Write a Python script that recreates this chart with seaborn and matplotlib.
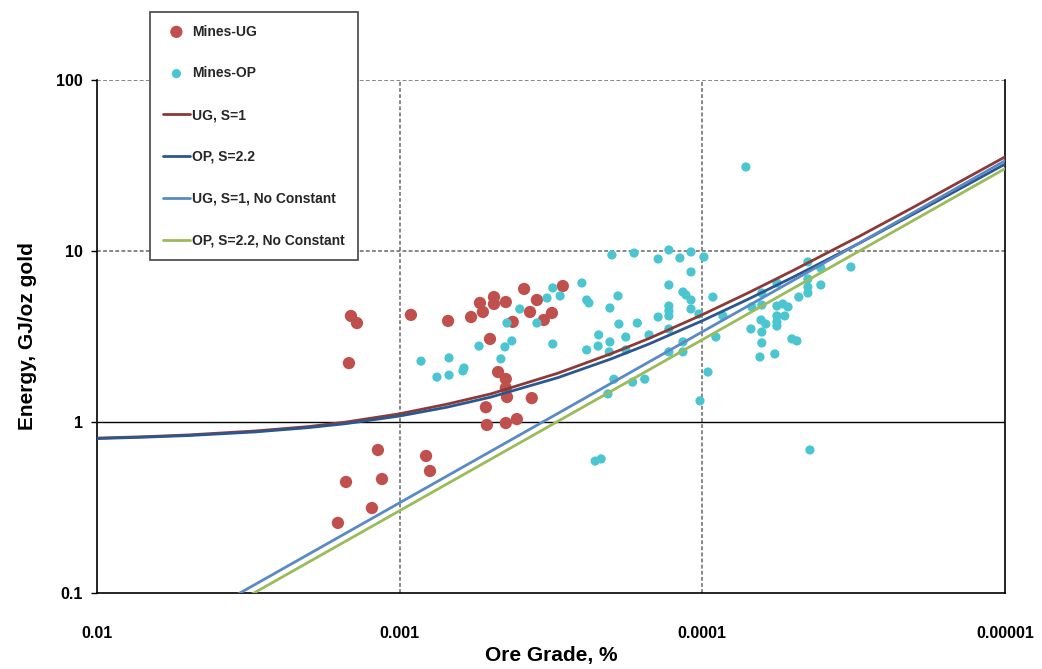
import matplotlib
matplotlib.use("Agg")
import matplotlib.pyplot as plt
import seaborn as sns
import pandas as pd

# ---------------- data ----------------
ug_grade = [1.449e-3, 1.384e-3, 1.471e-3, 9.18e-4, 6.92e-4, 5.81e-4, 5.43e-4, 5.31e-4,
            4.88e-4, 4.88e-4, 4.46e-4, 3.88e-4, 3.52e-4, 3.71e-4, 4.23e-4, 3.34e-4,
            3.14e-4, 2.89e-4, 5.03e-4, 4.73e-4, 4.46e-4, 4.46e-4, 4.42e-4, 3.66e-4,
            5.19e-4, 5.15e-4, 4.46e-4, 4.10e-4, 1.18e-3, 8.18e-4, 7.94e-4, 1.504e-3,
            1.144e-3, 1.235e-3, 1.60e-3]
ug_energy = [4.17, 3.79, 2.21, 4.23, 3.90, 4.11, 4.97, 4.40,
             5.38, 4.90, 5.03, 6.00, 5.17, 4.40, 3.85, 3.95,
             4.34, 6.24, 3.06, 1.96, 1.785, 1.58, 1.40, 1.38,
             1.22, 0.961, 0.986, 1.04, 0.686, 0.633, 0.517, 0.446,
             0.464, 0.314, 0.257]

op_grade = [8.50e-4, 7.53e-4, 6.87e-4, 6.87e-4, 6.18e-4, 6.13e-4, 5.47e-4, 4.63e-4,
            4.49e-4, 4.26e-4, 4.42e-4, 4.01e-4, 3.52e-4, 3.26e-4, 3.12e-4, 2.95e-4,
            3.12e-4, 2.50e-4, 2.41e-4, 2.37e-4, 2.41e-4, 2.21e-4, 2.20e-4, 2.26e-4,
            2.16e-4, 1.99e-4, 1.68e-4, 1.40e-4, 1.29e-4, 1.186e-4, 1.09e-4, 9.88e-5,
            1.09e-4, 1.90e-4, 2.02e-4, 1.29e-4, 1.159e-4, 1.133e-4, 1.09e-4, 1.09e-4,
            1.026e-4, 9.23e-5, 1.29e-4, 1.29e-4, 1.29e-4, 1.40e-4, 1.64e-4, 1.886e-4,
            1.79e-4, 1.50e-4, 1.29e-4, 2.02e-4, 2.03e-4, 1.79e-4, 1.29e-4, 1.159e-4,
            1.159e-4, 9.02e-5, 1.96e-4, 1.70e-4, 1.55e-4, 2.05e-4, 9.58e-5, 1.018e-4,
            7.18e-5, 8.55e-5, 6.36e-5, 5.67e-5, 4.48e-5, 4.06e-5, 3.23e-5, 4.48e-5,
            4.06e-5, 4.80e-5, 4.48e-5, 4.48e-5, 6.36e-5, 6.86e-5, 5.67e-5, 5.42e-5,
            5.21e-5, 5.67e-5, 5.34e-5, 6.40e-5, 6.17e-5, 5.67e-5, 5.67e-5, 6.91e-5,
            6.36e-5, 6.36e-5, 5.06e-5, 4.87e-5, 6.45e-5, 5.76e-5, 4.41e-5]
op_energy = [2.27, 1.83, 2.37, 1.88, 1.99, 2.07, 2.78, 2.34,
             2.75, 2.98, 3.79, 4.58, 3.79, 5.31, 6.08, 5.46,
             2.86, 6.50, 5.17, 4.97, 2.64, 2.78, 3.23, 0.591,
             0.608, 9.48, 9.73, 8.98, 10.14, 9.10, 9.87, 9.22,
             7.54, 5.46, 4.64, 6.33, 5.76, 5.53, 5.17, 4.58,
             4.28, 5.38, 4.77, 4.46, 4.17, 4.11, 3.79, 3.74,
             3.14, 3.23, 3.50, 2.94, 2.57, 2.64, 2.57, 2.94,
             2.57, 3.14, 1.78, 1.71, 1.78, 1.46, 1.96, 1.33,
             31.0, 4.17, 5.68, 6.50, 8.63, 7.95, 8.06, 6.86,
             6.33, 5.38, 6.16, 5.68, 4.83, 4.71, 4.77, 4.90,
             4.71, 4.17, 4.17, 3.95, 3.74, 3.85, 3.64, 3.50,
             3.36, 2.90, 3.06, 2.98, 2.40, 2.50, 0.686]

curve_grade = [0.01, 0.007, 0.005, 0.003, 0.002, 0.0015, 0.001, 0.0007, 0.0005,
               0.0003, 0.0002, 0.00015, 0.0001, 0.00007, 0.00005, 0.00003, 0.00002, 0.00001]
ug_s1 = [0.805, 0.82, 0.84, 0.886, 0.94, 1.00, 1.117, 1.27, 1.46,
         1.93, 2.51, 3.08, 4.24, 5.73, 7.71, 12.3, 18.1, 35.5]
op_s22 = [0.80, 0.815, 0.833, 0.875, 0.927, 0.979, 1.084, 1.219, 1.398,
          1.817, 2.34, 2.86, 3.91, 5.26, 7.05, 11.2, 16.5, 32.2]

nc_grade = [0.01, 0.00001]
ug_nc = [0.0337, 33.7]
op_nc = [0.0303, 30.3]

x_ticks = [0.01, 0.001, 0.0001, 0.00001]
x_tick_labels = ["0.01", "0.001", "0.0001", "0.00001"]
y_ticks = [0.1, 1, 10, 100]
y_tick_labels = ["0.1", "1", "10", "100"]

# ---------------- style ----------------
sns.set_theme(style="white")
plt.rcParams["font.family"] = ["Liberation Sans", "DejaVu Sans"]
plt.rcParams["font.weight"] = "bold"

fig = plt.figure(figsize=(10.42, 6.69), dpi=100)
ax = fig.add_axes([97 / 1042, 1 - 593 / 669, (1005 - 97) / 1042, (593 - 80) / 669])
ax.set_xscale("log")
ax.set_yscale("log")
ax.set_xlim(0.01, 0.00001)
ax.set_ylim(0.1, 100)

c_ug = "#c0504d"
c_op = "#4bc6d0"

sns.scatterplot(x=ug_grade, y=ug_energy, ax=ax, color=c_ug, s=78, edgecolor="none",
                label="Mines-UG", zorder=3)
sns.scatterplot(x=op_grade, y=op_energy, ax=ax, color=c_op, s=44, edgecolor="none",
                label="Mines-OP", zorder=3)

sns.lineplot(x=curve_grade, y=ug_s1, ax=ax, color="#8c3a37", lw=2, label="UG, S=1", zorder=4)
sns.lineplot(x=curve_grade, y=op_s22, ax=ax, color="#2a578f", lw=2, label="OP, S=2.2", zorder=4)
sns.lineplot(x=nc_grade, y=ug_nc, ax=ax, color="#5a8ac6", lw=2,
             label="UG, S=1, No Constant", zorder=4)
sns.lineplot(x=nc_grade, y=op_nc, ax=ax, color="#9bbb59", lw=2,
             label="OP, S=2.2, No Constant", zorder=4)

# grid
ax.grid(False)
for gx in [0.001, 0.0001]:
    ax.axvline(gx, color="#666666", lw=1.1, ls=(0, (2.5, 1.5)), zorder=1)
for gy in [10, 100]:
    ax.axhline(gy, color="#666666", lw=1.1, ls=(0, (2.5, 1.5)), zorder=1)
ax.axhline(1, color="black", lw=1.0, zorder=1)

for side in ["left", "bottom", "right"]:
    ax.spines[side].set_visible(True)
    ax.spines[side].set_color("black")
    ax.spines[side].set_linewidth(1.2)
ax.spines["top"].set_visible(False)

ax.set_xticks(x_ticks)
ax.set_xticklabels(x_tick_labels)
ax.set_yticks(y_ticks)
ax.set_yticklabels(y_tick_labels)
ax.minorticks_off()
ax.tick_params(axis="x", which="major", length=0, pad=24, labelsize=11.5, colors="black")
ax.tick_params(axis="y", which="major", length=4, width=1, pad=6, labelsize=11.5,
               direction="out", left=True, colors="black")
for lab in ax.get_xticklabels() + ax.get_yticklabels():
    lab.set_fontweight("bold")

ax.set_xlabel("Ore Grade, %", fontsize=15, fontweight="bold", labelpad=3.5, color="black")
ax.set_ylabel("Energy, GJ/oz gold", fontsize=15, fontweight="bold", labelpad=14, color="black")

leg = ax.legend(loc="upper left", bbox_to_anchor=(150 / 1042, 1 - 12 / 669),
                bbox_transform=fig.transFigure, borderaxespad=0, frameon=True,
                fancybox=False, framealpha=1, edgecolor="#444444",
                prop={"size": 10, "weight": "bold"}, labelspacing=2.0,
                handlelength=2.0, handletextpad=0.15, borderpad=0.9, markerscale=1.0)
leg.get_frame().set_linewidth(1.2)
leg.set_zorder(10)

fig.savefig("out.png", dpi=100)
